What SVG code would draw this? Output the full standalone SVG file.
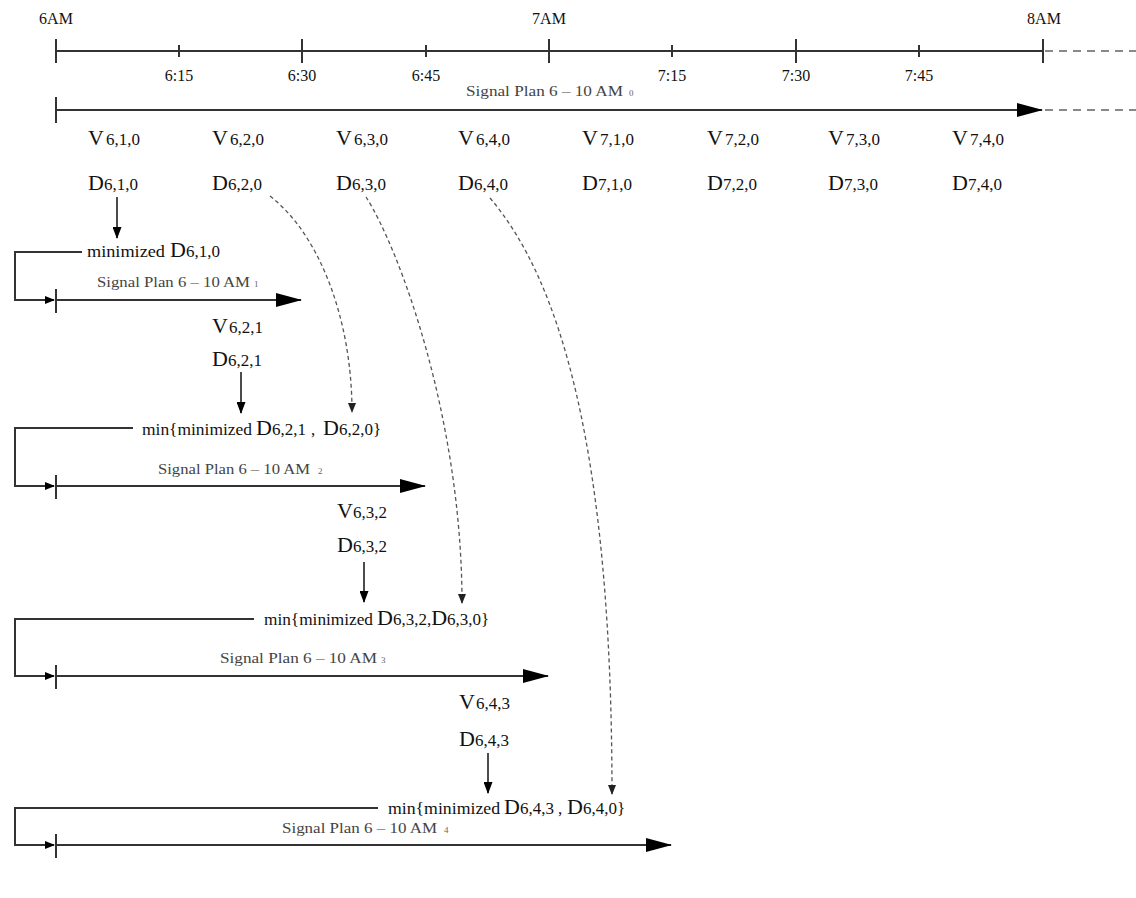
<svg xmlns="http://www.w3.org/2000/svg" width="1136" height="898" viewBox="0 0 1136 898">
<style>
text{font-family:"Liberation Serif","Times New Roman",serif;fill:#111}
.tick{font-size:16px;text-anchor:middle}
.b{font-size:22px}
.sub{font-size:17px}
.s{font-size:16px}
.sp{font-size:15px;fill:#444}
.spn{font-size:9px;fill:#666}
.axis{stroke:#333;stroke-width:2;fill:none}
.ext{stroke:#888;stroke-width:2;stroke-dasharray:8 6;fill:none}
.plan{stroke:#333;stroke-width:2;fill:none}
.br{stroke:#333;stroke-width:2;fill:none}
.down{stroke:#111;stroke-width:1.5;fill:none}
.dash{stroke:#555;stroke-width:1.3;stroke-dasharray:4 3;fill:none}
</style>
<defs>
<marker id="big" markerUnits="userSpaceOnUse" markerWidth="26" markerHeight="14" refX="25" refY="7" orient="auto"><path d="M0,0 L26,7 L0,14 z" fill="#000"/></marker>
<marker id="sm" markerUnits="userSpaceOnUse" markerWidth="10" markerHeight="8" refX="9" refY="4" orient="auto"><path d="M0,0 L10,4 L0,8 z" fill="#000"/></marker>
<marker id="dn" markerUnits="userSpaceOnUse" markerWidth="12" markerHeight="9" refX="11" refY="4.5" orient="auto"><path d="M0,0 L12,4.5 L0,9 z" fill="#000"/></marker>
<marker id="dd" markerUnits="userSpaceOnUse" markerWidth="10" markerHeight="8" refX="9" refY="4" orient="auto"><path d="M0,0 L10,4 L0,8 z" fill="#222"/></marker>
</defs>

<g id="timeline">
<line class="axis" x1="56" y1="51" x2="1043" y2="51"/>
<line class="ext" x1="1045" y1="51" x2="1136" y2="51"/>
<path class="axis" d="M56,39V63 M302,39V63 M549,39V63 M796,39V63 M1043,39V63 M179,45V57 M426,45V57 M672,45V57 M919,45V57"/>
<text class="tick" x="56" y="24">6AM</text>
<text class="tick" x="549" y="24">7AM</text>
<text class="tick" x="1044" y="24">8AM</text>
<text class="tick" x="179" y="81">6:15</text>
<text class="tick" x="302" y="81">6:30</text>
<text class="tick" x="426" y="81">6:45</text>
<text class="tick" x="672" y="81">7:15</text>
<text class="tick" x="796" y="81">7:30</text>
<text class="tick" x="919" y="81">7:45</text>
</g>

<g id="plan0">
<line class="plan" x1="56" y1="110" x2="1042" y2="110" marker-end="url(#big)"/>
<line class="axis" x1="56" y1="97" x2="56" y2="123"/>
<line class="ext" x1="1045" y1="110" x2="1136" y2="110"/>
<text x="466" y="96"><tspan class="sp" textLength="157" lengthAdjust="spacingAndGlyphs">Signal Plan 6 – 10 AM</tspan><tspan class="spn" x="629">0</tspan></text>
</g>

<g id="vrow">
<text x="88" y="145"><tspan class="b">V</tspan><tspan class="sub" dx="2">6,1,0</tspan></text>
<text x="212" y="145"><tspan class="b">V</tspan><tspan class="sub" dx="2">6,2,0</tspan></text>
<text x="336" y="145"><tspan class="b">V</tspan><tspan class="sub" dx="2">6,3,0</tspan></text>
<text x="458" y="145"><tspan class="b">V</tspan><tspan class="sub" dx="2">6,4,0</tspan></text>
<text x="582" y="145"><tspan class="b">V</tspan><tspan class="sub" dx="2">7,1,0</tspan></text>
<text x="707" y="145"><tspan class="b">V</tspan><tspan class="sub" dx="2">7,2,0</tspan></text>
<text x="828" y="145"><tspan class="b">V</tspan><tspan class="sub" dx="2">7,3,0</tspan></text>
<text x="952" y="145"><tspan class="b">V</tspan><tspan class="sub" dx="2">7,4,0</tspan></text>
</g>
<g id="drow">
<text x="88" y="190"><tspan class="b">D</tspan><tspan class="sub">6,1,0</tspan></text>
<text x="212" y="190"><tspan class="b">D</tspan><tspan class="sub">6,2,0</tspan></text>
<text x="336" y="190"><tspan class="b">D</tspan><tspan class="sub">6,3,0</tspan></text>
<text x="458" y="190"><tspan class="b">D</tspan><tspan class="sub">6,4,0</tspan></text>
<text x="582" y="190"><tspan class="b">D</tspan><tspan class="sub">7,1,0</tspan></text>
<text x="707" y="190"><tspan class="b">D</tspan><tspan class="sub">7,2,0</tspan></text>
<text x="828" y="190"><tspan class="b">D</tspan><tspan class="sub">7,3,0</tspan></text>
<text x="952" y="190"><tspan class="b">D</tspan><tspan class="sub">7,4,0</tspan></text>
</g>

<g id="stage1">
<text y="257"><tspan class="s" x="87" textLength="78" lengthAdjust="spacingAndGlyphs">minimized</tspan><tspan class="b" x="170">D</tspan><tspan class="sub">6,1,0</tspan></text>
<text x="97" y="287"><tspan class="sp" textLength="153" lengthAdjust="spacingAndGlyphs">Signal Plan 6 – 10 AM</tspan><tspan class="spn" x="254">1</tspan></text>
<line class="plan" x1="56" y1="300" x2="301" y2="300" marker-end="url(#big)"/>
<line class="axis" x1="56" y1="289" x2="56" y2="313"/>
<text x="212" y="333"><tspan class="b">V</tspan><tspan class="sub" dx="1">6,2,1</tspan></text>
<text x="212" y="366"><tspan class="b">D</tspan><tspan class="sub">6,2,1</tspan></text>
</g>

<g id="stage2">
<text y="435"><tspan class="s" x="142" textLength="110" lengthAdjust="spacingAndGlyphs">min{minimized</tspan><tspan class="b" x="256">D</tspan><tspan class="sub">6,2,1</tspan><tspan class="sub" x="311">,</tspan><tspan class="b" x="323">D</tspan><tspan class="sub">6,2,0}</tspan></text>
<text x="158" y="474"><tspan class="sp" textLength="152" lengthAdjust="spacingAndGlyphs">Signal Plan 6 – 10 AM</tspan><tspan class="spn" x="318">2</tspan></text>
<line class="plan" x1="56" y1="486" x2="425" y2="486" marker-end="url(#big)"/>
<line class="axis" x1="56" y1="475" x2="56" y2="499"/>
<text x="337" y="518"><tspan class="b">V</tspan><tspan class="sub">6,3,2</tspan></text>
<text x="337" y="552"><tspan class="b">D</tspan><tspan class="sub">6,3,2</tspan></text>
</g>

<g id="stage3">
<text y="625"><tspan class="s" x="264" textLength="109" lengthAdjust="spacingAndGlyphs">min{minimized</tspan><tspan class="b" x="377">D</tspan><tspan class="sub">6,3,2,</tspan><tspan class="b">D</tspan><tspan class="sub">6,3,0}</tspan></text>
<text x="220" y="663"><tspan class="sp" textLength="157" lengthAdjust="spacingAndGlyphs">Signal Plan 6 – 10 AM</tspan><tspan class="spn" x="381">3</tspan></text>
<line class="plan" x1="56" y1="676" x2="548" y2="676" marker-end="url(#big)"/>
<line class="axis" x1="56" y1="665" x2="56" y2="689"/>
<text x="459" y="709"><tspan class="b">V</tspan><tspan class="sub" dx="1">6,4,3</tspan></text>
<text x="459" y="746"><tspan class="b">D</tspan><tspan class="sub">6,4,3</tspan></text>
</g>

<g id="stage4">
<text y="814"><tspan class="s" x="388" textLength="112" lengthAdjust="spacingAndGlyphs">min{minimized</tspan><tspan class="b" x="504">D</tspan><tspan class="sub">6,4,3</tspan><tspan class="sub" x="558">,</tspan><tspan class="b" x="567">D</tspan><tspan class="sub">6,4,0}</tspan></text>
<text x="282" y="833"><tspan class="sp" textLength="155" lengthAdjust="spacingAndGlyphs">Signal Plan 6 – 10 AM</tspan><tspan class="spn" x="444">4</tspan></text>
<line class="plan" x1="56" y1="845" x2="671" y2="845" marker-end="url(#big)"/>
<line class="axis" x1="56" y1="834" x2="56" y2="858"/>
</g>

<g id="connectors">
<line class="down" x1="117" y1="197" x2="117" y2="238" marker-end="url(#dn)"/>
<line class="down" x1="241" y1="372" x2="241" y2="413" marker-end="url(#dn)"/>
<line class="down" x1="364" y1="562" x2="364" y2="602" marker-end="url(#dn)"/>
<line class="down" x1="488" y1="753" x2="488" y2="793" marker-end="url(#dn)"/>
<path class="br" d="M82,252 H15 V300 H54" marker-end="url(#sm)"/>
<path class="br" d="M133,428 H15 V486 H54" marker-end="url(#sm)"/>
<path class="br" d="M254,619 H15 V676 H54" marker-end="url(#sm)"/>
<path class="br" d="M378,808 H15 V845 H54" marker-end="url(#sm)"/>
<path class="dash" d="M270,196 C320,235 352,320 352,412" marker-end="url(#dd)"/>
<path class="dash" d="M366,197 C400,250 462,420 462,603" marker-end="url(#dd)"/>
<path class="dash" d="M490,198 C560,280 612,450 612,794" marker-end="url(#dd)"/>
</g>
</svg>
